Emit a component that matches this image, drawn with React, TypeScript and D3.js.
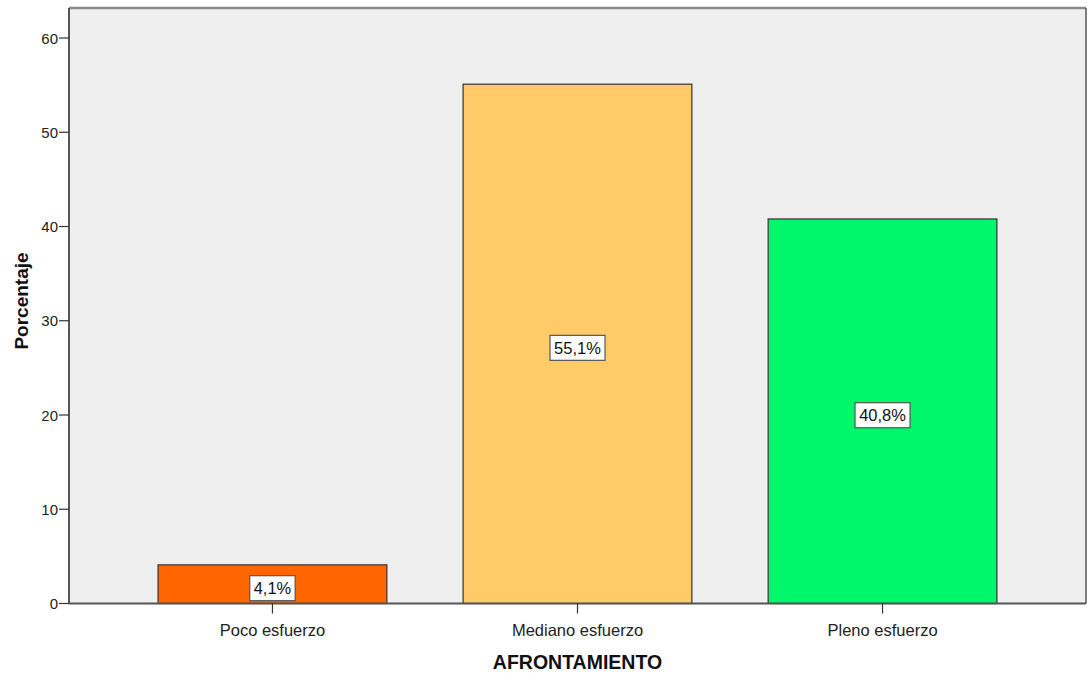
import React from "react";
import * as d3 from "d3";

const categories = ["Poco esfuerzo", "Mediano esfuerzo", "Pleno esfuerzo"];
const values = [4.1, 55.1, 40.8];
const valueLabels = ["4,1%", "55,1%", "40,8%"];
const colors = ["#FF6600", "#FFCB69", "#00F76C"];
const yTicks = [0, 10, 20, 30, 40, 50, 60];

const W = 1088;
const H = 673;
const left = 69;
const right = 1086;
const top = 8;
const bottom = 603.5;

export default function App() {
  const x = d3.scalePoint<string>().domain(categories).range([left, right]).padding(0.667);
  const step = x.step();
  const barW = step * 0.75;
  const y = d3.scaleLinear().domain([0, 60]).range([bottom, 38]);
  const font = "'Liberation Sans', Arial, sans-serif";

  return (
    <div style={{ position: "absolute", left: 0, top: 0 }}>
      <svg width={W} height={H} style={{ display: "block" }}>
        <rect x={0} y={0} width={W} height={H} fill="#ffffff" />
        <rect x={left} y={top} width={right - left} height={bottom - top} fill="#EFEFEF" />
        {categories.map((c, i) => {
          const cx = x(c)!;
          const y0 = y(values[i]);
          const midY = (y0 + y(0)) / 2 + 4;
          const lw = valueLabels[i].length * 9.6 + 7;
          return (
            <g key={c}>
              <rect
                x={cx - barW / 2}
                y={y0}
                width={barW}
                height={y(0) - y0}
                fill={colors[i]}
                stroke="#333"
                strokeWidth={1.2}
              />
              <rect
                x={cx - lw / 2}
                y={midY - 12.5}
                width={lw}
                height={25}
                fill="#ffffff"
                stroke="#555"
                strokeWidth={1.2}
              />
              <text
                x={cx}
                y={midY + 6}
                textAnchor="middle"
                fontFamily={font}
                fontSize={16.5}
                fill="#111"
              >
                {valueLabels[i]}
              </text>
            </g>
          );
        })}
        {/* frame */}
        <line x1={left} x2={right} y1={top} y2={top} stroke="#8a8a8a" strokeWidth={2.5} />
        <line x1={right} x2={right} y1={top} y2={bottom} stroke="#555" strokeWidth={1.5} />
        <line x1={left} x2={right} y1={bottom} y2={bottom} stroke="#555" strokeWidth={2} />
        <line x1={left} x2={left} y1={top} y2={bottom} stroke="#555" strokeWidth={2} />
        {/* y ticks */}
        {yTicks.map((t) => (
          <g key={t}>
            <line x1={left - 10} x2={left} y1={y(t)} y2={y(t)} stroke="#333" strokeWidth={1.2} />
            <text
              x={left - 11}
              y={y(t) + 5.5}
              textAnchor="end"
              fontFamily={font}
              fontSize={15}
              fill="#222"
            >
              {t}
            </text>
          </g>
        ))}
        {/* x ticks */}
        {categories.map((c) => (
          <g key={c}>
            <line x1={x(c)!} x2={x(c)!} y1={bottom} y2={bottom + 10} stroke="#333" strokeWidth={1.2} />
            <text
              x={x(c)!}
              y={636}
              textAnchor="middle"
              fontFamily={font}
              fontSize={16.5}
              fill="#222"
            >
              {c}
            </text>
          </g>
        ))}
        <text
          x={(left + right) / 2}
          y={669}
          textAnchor="middle"
          fontFamily={font}
          fontSize={19.5}
          fontWeight="bold"
          fill="#111"
        >
          AFRONTAMIENTO
        </text>
        <text
          transform={`translate(28, 301) rotate(-90)`}
          textAnchor="middle"
          fontFamily={font}
          fontSize={19}
          fontWeight="bold"
          fill="#111"
        >
          Porcentaje
        </text>
      </svg>
    </div>
  );
}
